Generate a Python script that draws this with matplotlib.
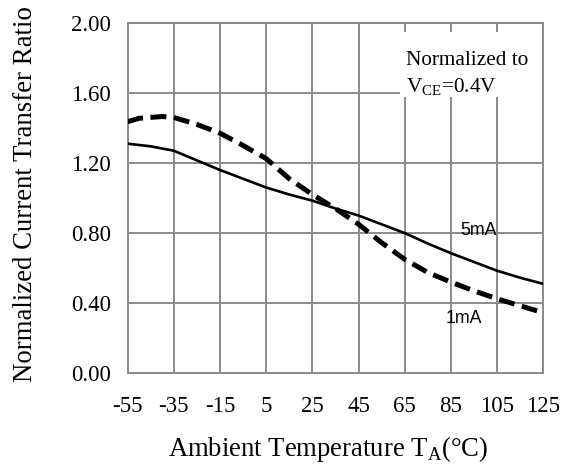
import matplotlib
matplotlib.use("Agg")
import matplotlib.pyplot as plt
from matplotlib.patches import Rectangle

# values
temps_5ma = [-55, -45, -35, -25, -15, -5, 5, 15, 25, 35, 45, 55, 65, 75, 85, 95, 105, 115, 125]
ctr_5ma = [1.31, 1.295, 1.27, 1.215, 1.16, 1.11, 1.06, 1.02, 0.985, 0.94, 0.90, 0.85,
           0.80, 0.74, 0.685, 0.635, 0.585, 0.545, 0.51]

temps_1ma = [-55, -50, -45, -40, -35, -25, -15, -5, 5, 15, 25, 35, 45, 55, 65, 75, 85, 95, 105, 115, 125]
ctr_1ma = [1.435, 1.455, 1.46, 1.465, 1.46, 1.42, 1.37, 1.30, 1.225, 1.11, 1.02, 0.94,
           0.85, 0.745, 0.65, 0.575, 0.52, 0.47, 0.425, 0.385, 0.345]

x_ticks = [-55, -35, -15, 5, 25, 45, 65, 85, 105, 125]
y_ticks = [0.0, 0.4, 0.8, 1.2, 1.6, 2.0]

GRID = "#8a8a8a"

plt.rcParams['font.family'] = ['Liberation Serif', 'DejaVu Serif']
plt.rcParams['mathtext.fontset'] = 'custom'
plt.rcParams['mathtext.rm'] = 'Liberation Serif'
plt.rcParams['axes.unicode_minus'] = False


def make_plot():
    fig = plt.figure(figsize=(5.71, 4.67), dpi=100)
    ax = fig.add_axes([0.2233, 0.2006, 0.7285, 0.7507])

    ax.set_xlim(-55, 125)
    ax.set_ylim(0, 2.0)
    ax.set_xticks(x_ticks)
    ax.set_yticks(y_ticks)
    ax.set_yticklabels([f"{v:.2f}" for v in y_ticks])
    ax.tick_params(length=0, labelsize=16.5, colors="black")
    ax.tick_params(axis="x", pad=16)
    ax.tick_params(axis="y", pad=12)

    ax.set_axisbelow(True)
    ax.grid(True, color=GRID, linewidth=1.4)
    for s in ax.spines.values():
        s.set_color(GRID)
        s.set_linewidth(1.4)

    # white box behind the note hides the grid
    ax.add_patch(Rectangle((62.9, 1.578), 61.5, 0.371, facecolor="white",
                           edgecolor="none", zorder=1.5))
    ax.text(65.5, 1.76, "Normalized to", fontsize=15.3, zorder=3)
    ax.text(65.5, 1.60, r"V$_\mathregular{CE}$=0.4V", fontsize=15.3, zorder=3)

    ax.plot(temps_5ma, ctr_5ma, color="black", linewidth=1.9, zorder=4)
    ax.plot(temps_1ma, ctr_1ma, color="black", linewidth=3.6,
            dashes=(3.2, 1.5), dash_capstyle="butt", zorder=4)

    ax.text(88.9, 0.789, "5mA", fontsize=12.8, family="Liberation Sans", zorder=5)
    ax.text(82.6, 0.285, "1mA", fontsize=12.8, family="Liberation Sans", zorder=5)

    ax.set_xlabel(r"Ambient Temperature T$_\mathregular{A}$(°C)", fontsize=19.2)
    ax.xaxis.set_label_coords(0.482, -0.172)
    ax.set_ylabel("Normalized Current Transfer Ratio", fontsize=19.3)
    ax.yaxis.set_label_coords(-0.215, 0.511)

    fig.savefig("out.png", dpi=100)


if __name__ == "__main__":
    make_plot()
